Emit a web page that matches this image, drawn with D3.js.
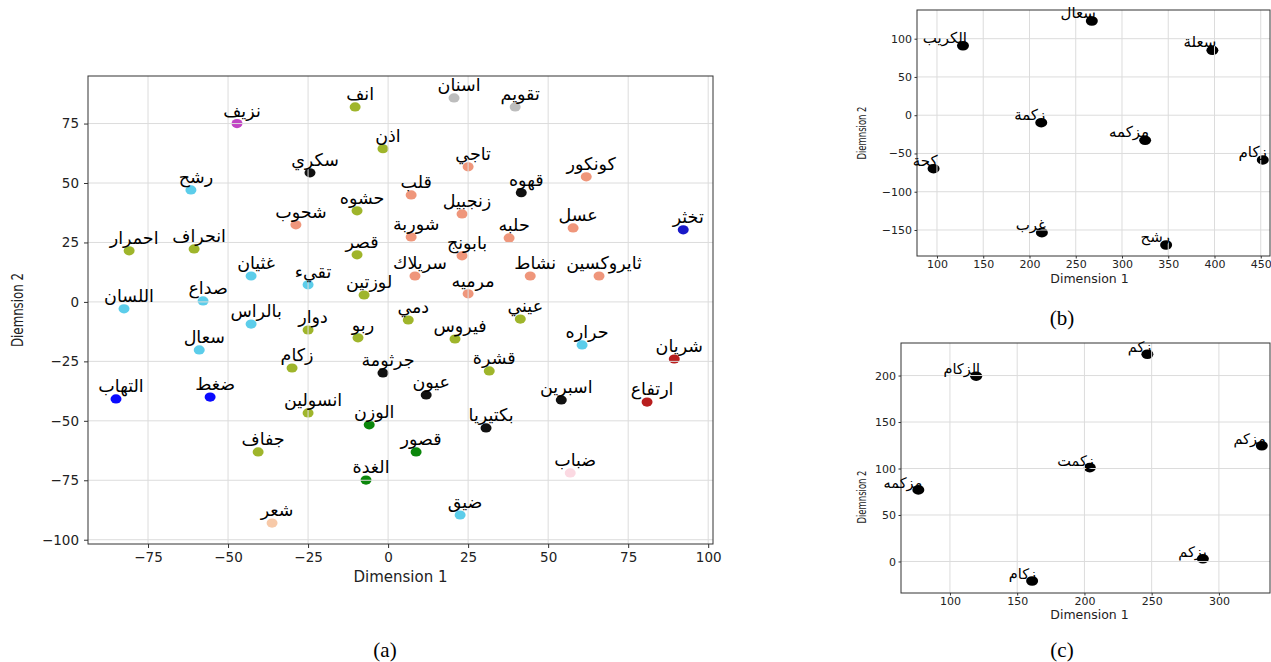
<!DOCTYPE html>
<html>
<head>
<meta charset="utf-8">
<script src="https://cdn.jsdelivr.net/npm/d3@7"></script>
<style>
  body { margin: 0; background: #fff; }
  text { font-family: "DejaVu Sans", sans-serif; }
</style>
</head>
<body>
<script>
const width = 1271;
const height = 662;

// panel (a)
const labelsA = ["نزيف","انف","اسنان","تقويم","اذن","سكري","تاجي","كونكور","قهوه","رشح",
  "قلب","حشوه","زنجبيل","شحوب","شوربة","عسل","تخثر","حلبه","احمرار","انحراف",
  "قصر","بابونج","غثيان","سريلاك","نشاط","ثايروكسين","تقيء","لوزتين","مرميه","صداع",
  "اللسان","بالراس","دمي","عيني","دوار","ربو","فيروس","سعال","حراره","شريان",
  "زكام","جرثومة","قشرة","التهاب","ضغط","عيون","اسبرين","ارتفاع","انسولين","الوزن",
  "بكتيريا","جفاف","قصور","ضباب","الغدة","ضيق","شعر"];
const xA = [-47.2,-10.3,20.6,39.7,-1.6,-24.4,25.0,61.9,41.6,-61.6,
  7.2,-9.7,23.1,-28.8,7.2,57.8,92.2,37.8,-80.9,-60.6,
  -9.7,23.1,-42.8,8.4,44.4,65.9,-25.0,-7.5,25.0,-57.8,
  -82.5,-42.8,6.3,41.3,-25.0,-9.4,20.9,-59.0,60.6,89.4,
  -30.0,-1.6,31.6,-85.0,-55.6,11.9,54.1,80.9,-25.0,-5.9,
  30.6,-40.6,8.75,56.9,-6.9,22.5,-36.25];
const yA = [75.0,82.0,85.8,82.0,64.4,54.3,56.8,52.6,45.9,47.1,
  45.0,38.3,37.0,32.4,27.3,31.1,30.3,26.9,21.5,22.3,
  19.8,19.4,10.9,10.9,10.9,10.9,7.2,2.9,3.4,0.4,
  -2.9,-9.3,-7.6,-7.2,-11.8,-15.1,-15.6,-20.2,-18.1,-24.0,
  -27.8,-29.9,-29.0,-40.8,-40.0,-39.1,-41.2,-42.1,-46.7,-51.7,
  -53.0,-63.1,-63.1,-71.9,-74.9,-89.6,-93.0];
const groupA = [6,0,7,7,0,3,2,2,3,1,
  2,0,2,2,2,2,5,2,0,0,
  0,2,1,2,2,2,1,0,2,1,
  1,1,0,0,0,0,0,1,1,9,
  0,3,0,4,4,3,3,9,0,8,
  3,0,8,10,8,1,11];
const xTicksA = [-75,-50,-25,0,25,50,75,100];
const yTicksA = [-100,-75,-50,-25,0,25,50,75];

// panel (b)
const labelsB = ["سعال","الكريب","سعلة","زكمة","مزكمه","زكام","كحة","غرب","رشح"];
const xB = [267.4,128.1,397.7,212.7,325.0,452.2,96.3,213.4,347.7];
const yB = [123.1,90.8,84.8,-9.8,-32.8,-58.5,-69.9,-153.5,-169.6];
const xTicksB = [100,150,200,250,300,350,400,450];
const yTicksB = [-150,-100,-50,0,50,100];

// panel (c)
const labelsC = ["زكم","الزكام","مزكم","زكمت","مزكمه","يزكم","زكام"];
const xC = [246.8,119.5,331.9,204.0,76.5,288.1,161.1];
const yC = [222.9,199.3,124.5,100.9,77.0,2.9,-21.0];
const xTicksC = [100,150,200,250,300];
const yTicksC = [0,50,100,150,200];

const groupColors = ["#9fb52b","#5ccdea","#ef967b","#111111","#0a0aff","#1818c8",
  "#c044c4","#bdbdbd","#0b870b","#b81e1e","#fbd9e2","#f7c9a8"];

const svg = d3.select("body").append("svg")
    .attr("width", width)
    .attr("height", height);

svg.append("rect").attr("width", width).attr("height", height).attr("fill", "#fff");

function panel(opt) {
  const g = svg.append("g");
  const x = d3.scaleLinear().domain(opt.xDomain).range([opt.left, opt.right]);
  const y = d3.scaleLinear().domain(opt.yDomain).range([opt.bottom, opt.top]);

  // dots
  g.selectAll(".dot")
    .data(opt.labels)
    .join("ellipse")
    .attr("cx", (d, i) => x(opt.xs[i]))
    .attr("cy", (d, i) => y(opt.ys[i]))
    .attr("rx", opt.rx)
    .attr("ry", opt.ry)
    .attr("fill", (d, i) => opt.groups ? groupColors[opt.groups[i]] : "#000");

  // grid (drawn over the dots, like the original)
  g.selectAll(".gx")
    .data(opt.xTicks)
    .join("line")
    .attr("x1", d => x(d)).attr("x2", d => x(d))
    .attr("y1", opt.top).attr("y2", opt.bottom)
    .attr("stroke", "#dcdcdc").attr("stroke-width", 1);
  g.selectAll(".gy")
    .data(opt.yTicks)
    .join("line")
    .attr("x1", opt.left).attr("x2", opt.right)
    .attr("y1", d => y(d)).attr("y2", d => y(d))
    .attr("stroke", "#dcdcdc").attr("stroke-width", 1);

  // frame
  g.append("rect")
    .attr("x", opt.left).attr("y", opt.top)
    .attr("width", opt.right - opt.left)
    .attr("height", opt.bottom - opt.top)
    .attr("fill", "none")
    .attr("stroke", "#333")
    .attr("stroke-width", 1);

  // axes
  const fmt = d => d < 0 ? "\u2212" + Math.abs(d) : d;
  const xAxis = g.append("g")
    .attr("transform", `translate(0,${opt.bottom})`)
    .call(d3.axisBottom(x).tickValues(opt.xTicks).tickSize(opt.tickLen).tickPadding(opt.tickPad)
      .tickFormat(fmt));
  const yAxis = g.append("g")
    .attr("transform", `translate(${opt.left},0)`)
    .call(d3.axisLeft(y).tickValues(opt.yTicks).tickSize(opt.tickLen).tickPadding(opt.tickPad + 1)
      .tickFormat(fmt));
  [xAxis, yAxis].forEach(a => {
    a.select(".domain").remove();
    a.selectAll("line").attr("stroke", "#333");
    a.selectAll("text")
      .attr("font-family", "DejaVu Sans")
      .attr("font-size", opt.tickSize)
      .attr("fill", "#222");
  });

  g.append("text")
    .attr("x", (opt.left + opt.right) / 2 + opt.xLabelShift)
    .attr("y", opt.xLabelY)
    .attr("text-anchor", "middle")
    .attr("font-size", opt.labelSize)
    .attr("fill", "#222")
    .text("Dimension 1");

  g.append("text")
    .attr("transform", `translate(${opt.yLabelX},${opt.yLabelCY}) rotate(-90)`)
    .attr("text-anchor", "middle")
    .attr("font-size", opt.labelSize)
    .attr("textLength", opt.yLabelLen)
    .attr("lengthAdjust", "spacingAndGlyphs")
    .attr("fill", "#222")
    .text("Diemnsion 2");

  // word labels
  g.selectAll(".lbl")
    .data(opt.labels)
    .join("text")
    .attr("x", (d, i) => x(opt.xs[i]) + opt.dx)
    .attr("y", (d, i) => y(opt.ys[i]) + opt.dy)
    .attr("text-anchor", opt.anchor)
    .attr("font-size", opt.wordSize)
    .attr("fill", "#000")
    .text(d => d);

  svg.append("text")
    .attr("x", opt.captionX)
    .attr("y", opt.captionY)
    .attr("text-anchor", "middle")
    .style("font-family", "'Liberation Serif', 'DejaVu Serif', serif")
    .attr("font-size", 21)
    .attr("fill", "#000")
    .text(opt.caption);
}

panel({
  labels: labelsA, xs: xA, ys: yA, groups: groupA,
  xTicks: xTicksA, yTicks: yTicksA,
  xDomain: [-93.75, 101.5], yDomain: [-101.8, 95],
  left: 88, right: 713, top: 76, bottom: 544,
  rx: 5.5, ry: 4.6,
  tickSize: 13.5, tickLen: 4, tickPad: 4, labelSize: 15, wordSize: 17.5,
  xLabelShift: 0, xLabelY: 582,
  yLabelX: 23, yLabelCY: 310, yLabelLen: 74,
  dx: 5, dy: -7, anchor: "middle",
  caption: "(a)", captionX: 385, captionY: 657
});

panel({
  labels: labelsB, xs: xB, ys: yB, groups: null,
  xTicks: xTicksB, yTicks: yTicksB,
  xDomain: [78.4, 460], yDomain: [-184, 137.5],
  left: 917, right: 1270, top: 10, bottom: 256,
  rx: 6, ry: 4.8,
  tickSize: 11, tickLen: 2.5, tickPad: 1.5, labelSize: 12.5, wordSize: 15,
  xLabelShift: -4, xLabelY: 283,
  yLabelX: 866, yLabelCY: 133, yLabelLen: 53,
  dx: 4, dy: -3, anchor: "end",
  caption: "(b)", captionX: 1062, captionY: 325
});

panel({
  labels: labelsC, xs: xC, ys: yC, groups: null,
  xTicks: xTicksC, yTicks: yTicksC,
  xDomain: [63.6, 338], yDomain: [-33.9, 235],
  left: 901, right: 1270, top: 343, bottom: 593,
  rx: 6, ry: 4.8,
  tickSize: 11, tickLen: 2.5, tickPad: 1.5, labelSize: 12.5, wordSize: 14.5,
  xLabelShift: 4, xLabelY: 619,
  yLabelX: 866, yLabelCY: 497, yLabelLen: 53,
  dx: 4, dy: -2, anchor: "end",
  caption: "(c)", captionX: 1062, captionY: 657
});
</script>
</body>
</html>
